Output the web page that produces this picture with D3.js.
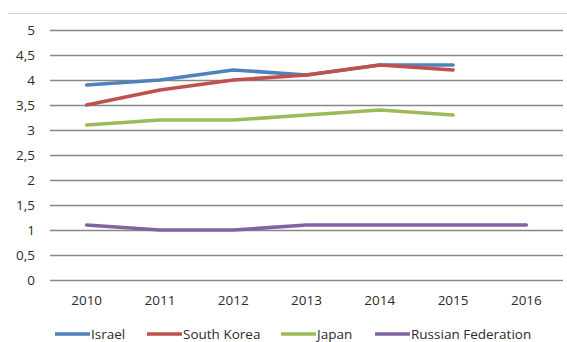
<!DOCTYPE html>
<html>
<head>
<meta charset="utf-8">
<script src="https://cdn.jsdelivr.net/npm/d3@7"></script>
<style>
  html, body { margin: 0; padding: 0; background: #fff; }
  svg text { font-family: "Open Sans", "Liberation Sans", sans-serif; fill: #2b2b2b; }
</style>
</head>
<body>
<svg id="chart" width="567" height="342"></svg>
<script>
const years = ["2010", "2011", "2012", "2013", "2014", "2015", "2016"];
const yTicks = [0, 0.5, 1, 1.5, 2, 2.5, 3, 3.5, 4, 4.5, 5];

const israel     = [3.9, 4.0, 4.2, 4.1, 4.3, 4.3, null];
const southKorea = [3.5, 3.8, 4.0, 4.1, 4.3, 4.2, null];
const japan      = [3.1, 3.2, 3.2, 3.3, 3.4, 3.3, null];
const russia     = [1.1, 1.0, 1.0, 1.1, 1.1, 1.1, 1.1];

const seriesNames  = ["Israel", "South Korea", "Japan", "Russian Federation"];
const seriesValues = [israel, southKorea, japan, russia];
const seriesColors = ["#4F81BD", "#C0504D", "#9BBB59", "#8064A2"];

const svg = d3.select("#chart");
const margin = { left: 50, right: 4, top: 30, bottom: 62 };
const W = 567, H = 342;

const x = d3.scaleBand().domain(years).range([margin.left, W - margin.right]);
const y = d3.scaleLinear().domain([0, 5]).range([H - margin.bottom, margin.top]);

// outer frame edge along the top
svg.append("line")
  .attr("x1", 8).attr("x2", 567).attr("y1", 13.5).attr("y2", 13.5)
  .attr("stroke", "#d4d4d4").attr("stroke-width", 1.2);

// horizontal gridlines
svg.append("g").selectAll("line").data(yTicks).join("line")
  .attr("x1", x.range()[0]).attr("x2", x.range()[1])
  .attr("y1", d => Math.round(y(d)) + 0.5).attr("y2", d => Math.round(y(d)) + 0.5)
  .attr("stroke", "#878787").attr("stroke-width", 1.4);

// y axis labels
const fmt = d => String(d).replace(".", ",");
svg.append("g").selectAll("text").data(yTicks).join("text")
  .attr("x", 35).attr("y", d => y(d)).attr("dy", "0.35em")
  .attr("text-anchor", "end").attr("font-size", 13.5)
  .text(fmt);

// x axis labels
svg.append("g").selectAll("text").data(years).join("text")
  .attr("x", d => x(d) + x.bandwidth() / 2).attr("y", 305)
  .attr("text-anchor", "middle").attr("font-size", 13.5)
  .text(d => d);

// series lines
const line = d3.line()
  .defined(d => d.v != null)
  .x(d => x(d.year) + x.bandwidth() / 2)
  .y(d => y(d.v));

seriesValues.forEach((vals, i) => {
  const pts = years.map((yr, j) => ({ year: yr, v: vals[j] }));
  svg.append("path")
    .datum(pts)
    .attr("fill", "none")
    .attr("stroke", seriesColors[i])
    .attr("stroke-width", 3.6)
    .attr("stroke-linejoin", "round")
    .attr("stroke-linecap", "round")
    .attr("d", line);
});

// legend
const legendX = [55, 147, 281, 375];
const legend = svg.append("g");
seriesNames.forEach((name, i) => {
  const g = legend.append("g").attr("transform", `translate(${legendX[i]},334)`);
  g.append("line").attr("x1", 0).attr("x2", 35).attr("y1", 0).attr("y2", 0)
    .attr("stroke", seriesColors[i]).attr("stroke-width", 3.6);
  g.append("text").attr("x", 36).attr("y", 0).attr("dy", "0.35em")
    .attr("font-size", 13.5).text(name);
});
</script>
</body>
</html>
